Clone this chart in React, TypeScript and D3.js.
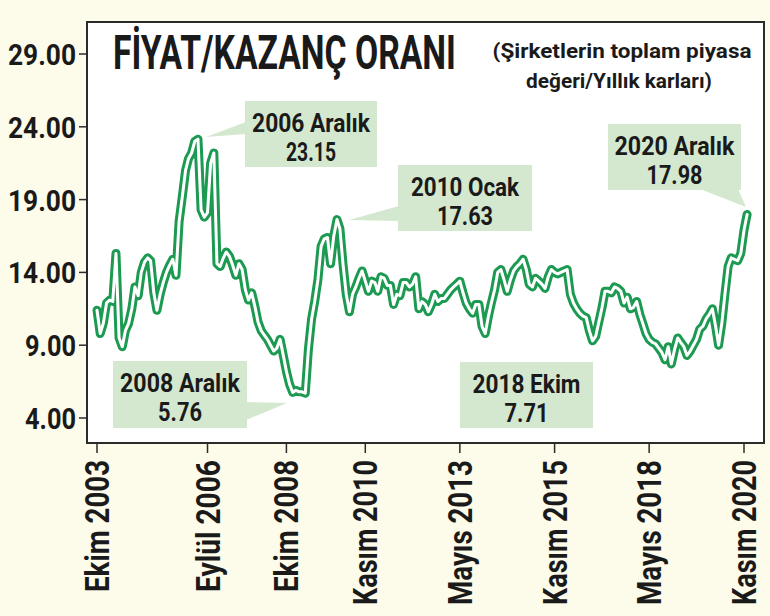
import React, { useLayoutEffect, useRef, useState } from 'react';
import * as d3 from 'd3';

// Monthly P/E ratio, October 2003 .. December 2020
const START_YEAR = 2003;
const START_MONTH = 9; // October (0-based)
const peRatio = [
  11.4, 9.8, 10.5, 11.9, 12.1, 12.0, 15.3, 9.5, 8.9, 10.0,
  10.5, 11.5, 13.0, 12.4, 14.0, 14.7, 15.0, 14.8, 12.6, 11.4,
  12.5, 13.3, 14.0, 14.5, 14.9, 13.8, 17.5, 19.2, 21.0, 21.8,
  22.2, 23.0, 23.15, 18.3, 17.8, 18.1, 21.5, 22.2, 14.6, 14.4,
  15.0, 15.4, 15.1, 14.5, 13.8, 14.6, 14.2, 12.8, 12.1, 12.6,
  11.7, 10.6, 10.0, 9.7, 9.4, 9.0, 8.6, 8.8, 9.4, 8.3,
  7.2, 6.3, 5.76, 5.9, 5.8, 5.8, 5.7, 8.7, 10.8, 12.0,
  13.5, 15.8, 16.3, 16.4, 14.6, 16.5, 17.63, 17.0, 14.5, 12.5,
  11.3, 12.5, 13.0, 13.6, 14.1, 13.4, 12.7, 13.4, 13.3, 12.7,
  13.7, 13.6, 13.1, 13.1, 11.8, 12.5, 12.4, 13.3, 13.3, 13.0,
  13.2, 13.7, 11.5, 12.0, 11.8, 11.3, 11.8, 12.5, 12.0, 12.2,
  12.2, 12.5, 12.8, 13.0, 13.2, 13.4, 12.6, 11.9, 11.5, 11.2,
  11.8, 11.8, 10.3, 9.8, 11.0, 11.9, 12.8, 14.0, 14.2, 13.5,
  12.7, 13.5, 14.1, 14.4, 14.6, 14.9, 14.2, 13.2, 13.0, 13.6,
  13.4, 13.2, 12.9, 13.7, 14.2, 14.0, 13.9, 14.0, 14.1, 14.2,
  12.5, 11.9, 11.5, 11.2, 11.0, 10.9, 10.0, 9.3, 9.6, 10.6,
  11.6, 12.7, 12.7, 12.6, 13.0, 12.9, 12.7, 11.9, 12.3, 11.5,
  11.6, 12.0, 11.1, 10.5, 9.8, 9.4, 9.2, 9.1, 8.8, 8.5,
  8.0, 8.9, 7.71, 8.7, 9.5, 9.2, 8.9, 8.3, 8.6, 9.0,
  9.4, 10.1, 10.3, 10.8, 11.1, 11.5, 10.3, 9.0, 10.5, 12.5,
  14.4, 15.0, 14.9, 14.8, 15.3, 16.9, 17.98,
];

const yTickValues = [4, 9, 14, 19, 24, 29];
const xTickYears = [2003, 2006, 2008, 2010, 2013, 2015, 2018, 2020];
const xTickMonths = [9, 8, 9, 10, 4, 10, 4, 10];
const xTickLabels = ['Ekim 2003', 'Eylül 2006', 'Ekim 2008', 'Kasım 2010', 'Mayıs 2013', 'Kasım 2015', 'Mayıs 2018', 'Kasım 2020'];

const titleText = 'FİYAT/KAZANÇ ORANI';
const subtitleLines = ['(Şirketlerin toplam piyasa', 'değeri/Yıllık karları)'];

const calloutDates = ['2006 Aralık', '2010 Ocak', '2008 Aralık', '2018 Ekim', '2020 Aralık'];
const calloutValues = ['23.15', '17.63', '5.76', '7.71', '17.98'];

const FONT = "'Liberation Sans Narrow', Roboto, 'DejaVu Sans Condensed', sans-serif";
const GREEN = '#1c9a52';
const BOX = '#d4e8cf';
const CREAM = '#fdfbea';
const INK = '#1a1a1a';

// Text condensed horizontally (like a condensed typeface) to a target width
function FitText(props: {
  x: number; y: number; width: number; size: number; anchor?: string; rotate?: number; children: string;
}) {
  const ref = useRef<SVGTextElement>(null);
  const [s, setS] = useState(1);
  useLayoutEffect(() => {
    if (ref.current) {
      const w = ref.current.getComputedTextLength();
      if (w > 0) setS(props.width / w);
    }
  }, [props.children, props.width, props.size]);
  const rot = props.rotate ? ` rotate(${props.rotate})` : '';
  return (
    <text ref={ref} transform={`translate(${props.x},${props.y})${rot} scale(${s},1)`}
      textAnchor={props.anchor || 'start'} fontSize={props.size} fontWeight={700} fill={INK}>
      {props.children}
    </text>
  );
}

export default function App() {
  const W = 770, H = 616;
  const left = 87, right = 764, top = 22, bottom = 443;

  const data = peRatio.map((v, i) => ({ date: new Date(START_YEAR, START_MONTH + i, 1), v }));

  const x = d3.scaleTime()
    .domain([new Date(2003, 9, 1), new Date(2020, 10, 1)])
    .range([97, 744]);
  const y = d3.scaleLinear().domain([4, 29]).range([418, 54]);

  const line = d3.line<{ date: Date; v: number }>()
    .x(d => x(d.date))
    .y(d => y(d.v))
    .curve(d3.curveLinear);
  const path = line(data) || '';

  // callout layout: box rect + wedge polygon
  const callouts = [
    { bx: 245, by: 101, bw: 132, bh: 66, wedge: [[246, 122], [246, 134], [206, 137]], l1: 118, l2: 50 },
    { bx: 398, by: 165, bw: 134, bh: 66, wedge: [[399, 206], [399, 221], [349, 220]], l1: 108, l2: 56 },
    { bx: 113, by: 361, bw: 134, bh: 67, wedge: [[246, 402], [246, 420], [287, 403]], l1: 120, l2: 44 },
    { bx: 460, by: 362, bw: 133, bh: 66, wedge: null, l1: 108, l2: 44 },
    { bx: 608, by: 124, bw: 133, bh: 66, wedge: [[700, 189], [738, 189], [746, 207]], l1: 120, l2: 56 },
  ];

  return (
    <svg width={W} height={H} style={{ position: 'absolute', left: 0, top: 0, display: 'block' }}
      fontFamily={FONT}>
      <rect x={0} y={0} width={W} height={H} fill={CREAM} />
      <rect x={left} y={top} width={right - left} height={bottom - top} fill="#ffffff" />

      {callouts.map((c, i) => (
        <g key={'c' + i}>
          {c.wedge && <polygon points={c.wedge.map(p => p.join(',')).join(' ')} fill={BOX} />}
          <rect x={c.bx} y={c.by} width={c.bw} height={c.bh} fill={BOX} />
          <FitText x={c.bx + c.bw / 2} y={c.by + 31} anchor="middle" size={26} width={c.l1}>{calloutDates[i]}</FitText>
          <FitText x={c.bx + c.bw / 2} y={c.by + 60} anchor="middle" size={26} width={c.l2}>{calloutValues[i]}</FitText>
        </g>
      ))}

      <path d={path} fill="none" stroke={GREEN} strokeWidth={9} strokeLinejoin="round" strokeLinecap="round" />
      <path d={path} fill="none" stroke="#ffffff" strokeWidth={3} strokeLinejoin="round" strokeLinecap="round" />

      <rect x={left} y={top} width={right - left} height={bottom - top} fill="none" stroke="#2b2b2b" strokeWidth={2} />

      {/* title */}
      <FitText x={113} y={69} size={48} width={343}>{titleText}</FitText>
      <FitText x={622} y={58} anchor="middle" size={21} width={259}>{subtitleLines[0]}</FitText>
      <FitText x={619} y={88} anchor="middle" size={21} width={186}>{subtitleLines[1]}</FitText>

      {/* y axis */}
      {yTickValues.map(v => {
        const label = d3.format('.2f')(v);
        return (
          <g key={'y' + v}>
            <line x1={79} x2={left} y1={y(v)} y2={y(v)} stroke="#2b2b2b" strokeWidth={1.5} />
            <FitText x={76} y={y(v) + 11} anchor="end" size={30} width={label.length === 5 ? 68 : 51}>{label}</FitText>
          </g>
        );
      })}

      {/* x axis */}
      {xTickLabels.map((lab, i) => {
        const xp = x(new Date(xTickYears[i], xTickMonths[i], 1));
        const long = lab.startsWith('Kas') || lab.startsWith('May');
        return (
          <g key={'x' + i}>
            <line x1={xp} x2={xp} y1={bottom} y2={bottom + 10} stroke="#2b2b2b" strokeWidth={1.5} />
            <FitText x={xp + 12} y={460} rotate={-90} anchor="end" size={33} width={long ? 145 : 132}>{lab}</FitText>
          </g>
        );
      })}
    </svg>
  );
}
